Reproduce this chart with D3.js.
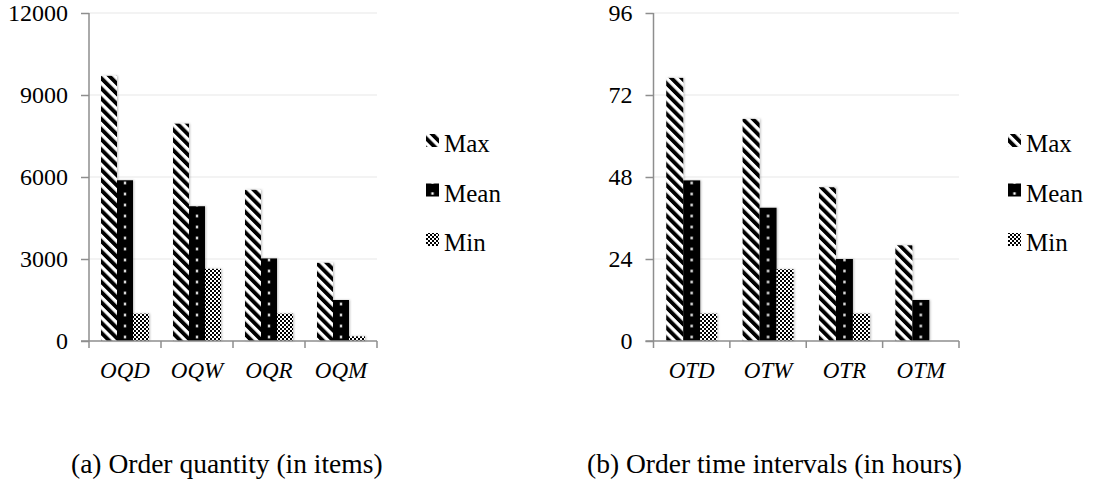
<!DOCTYPE html>
<html>
<head>
<meta charset="utf-8">
<script src="https://cdn.jsdelivr.net/npm/d3@7"></script>
</head>
<body style="margin:0">
<svg id="chart" width="1094" height="485"></svg>
<script>
// ---------- data ----------
const seriesNames = ["Max", "Mean", "Min"];

const categoriesA = ["OQD", "OQW", "OQR", "OQM"];
const maxA  = [9700, 7950, 5530, 2860];
const meanA = [5880, 4930, 3020, 1500];
const minA  = [1000, 2640, 1000, 170];
const ticksA = [0, 3000, 6000, 9000, 12000];
const captionA = "(a) Order quantity (in items)";

const categoriesB = ["OTD", "OTW", "OTR", "OTM"];
const maxB  = [77, 65, 45, 28];
const meanB = [47, 39, 24, 12];
const minB  = [8, 21, 8, 0];
const ticksB = [0, 24, 48, 72, 96];
const captionB = "(b) Order time intervals (in hours)";

// ---------- layout ----------
const FONT = "serif";
const panels = [
  { id: "a", cats: categoriesA, series: [maxA, meanA, minA], ticks: ticksA, caption: captionA,
    left: 89, right: 377, top: 13, bottom: 341, legendX: 426, captionX: 71 },
  { id: "b", cats: categoriesB, series: [maxB, meanB, minB], ticks: ticksB, caption: captionB,
    left: 653.5, right: 959, top: 13, bottom: 341, legendX: 1008, captionX: 587 }
];

const svg = d3.select("#chart");
const defs = svg.append("defs");
const axisColor = "#8e8e8e";
const gridColor = "#efefef";

// stripe pattern (Max)
const stripe = defs.append("pattern").attr("id", "pMax")
  .attr("patternUnits", "userSpaceOnUse").attr("width", 7.2).attr("height", 7.2)
  .attr("patternTransform", "rotate(-45)");
stripe.append("rect").attr("width", 7.2).attr("height", 7.2).attr("fill", "#fff");
stripe.append("rect").attr("width", 3.9).attr("height", 7.2).attr("fill", "#000");

// checker pattern (Min)
const chk = defs.append("pattern").attr("id", "pMin")
  .attr("patternUnits", "userSpaceOnUse").attr("width", 4).attr("height", 4);
chk.append("rect").attr("width", 4).attr("height", 4).attr("fill", "#fff");
chk.append("rect").attr("width", 2).attr("height", 2).attr("fill", "#000");
chk.append("rect").attr("x", 2).attr("y", 2).attr("width", 2).attr("height", 2).attr("fill", "#000");

// dotted pattern (Mean), aligned so a dot column sits at bar center
function meanPattern(id, centerX, period, baseY) {
  const vp = 11;
  const p = defs.append("pattern").attr("id", id)
    .attr("patternUnits", "userSpaceOnUse")
    .attr("x", centerX - period / 2).attr("y", baseY - 4 - vp / 2)
    .attr("width", period).attr("height", vp);
  p.append("rect").attr("width", period).attr("height", vp).attr("fill", "#000");
  p.append("rect").attr("x", period / 2 - 1.2).attr("y", vp / 2 - 1.2)
    .attr("width", 2.4).attr("height", 2.4).attr("fill", "#fff");
}

// soft shadow
const f = defs.append("filter").attr("id", "shadow")
  .attr("x", "-30%").attr("y", "-10%").attr("width", "160%").attr("height", "120%");
f.append("feDropShadow").attr("dx", 1).attr("dy", 0).attr("stdDeviation", 1.2)
  .attr("flood-color", "#000").attr("flood-opacity", 0.25);

panels.forEach(P => {
  const g = svg.append("g");
  const yMax = d3.max(P.ticks);
  const y = d3.scaleLinear().domain([0, yMax]).range([P.bottom, P.top]);
  const x0 = d3.scaleBand().domain(P.cats).range([P.left, P.right])
    .paddingInner(1 / 3).paddingOuter(1 / 6);
  const x1 = d3.scaleBand().domain(seriesNames).range([0, x0.bandwidth()]);
  const step = x0.step();

  // gridlines
  g.append("g").selectAll("line").data(P.ticks.filter(t => t > 0)).join("line")
    .attr("x1", P.left).attr("x2", P.right)
    .attr("y1", d => y(d)).attr("y2", d => y(d))
    .attr("stroke", gridColor).attr("stroke-width", 1.5);

  // y axis
  const yAxis = d3.axisLeft(y).tickValues(P.ticks).tickSize(8).tickPadding(13)
    .tickFormat(d3.format("d"));
  const ya = g.append("g").attr("transform", `translate(${P.left},0)`).call(yAxis);
  ya.attr("font-family", FONT).attr("font-size", 24);
  ya.select(".domain").attr("stroke", axisColor).attr("stroke-width", 1.5)
    .attr("d", `M0,${P.top}V${P.bottom}`);
  ya.selectAll(".tick line").attr("stroke", axisColor).attr("stroke-width", 1.5);
  ya.selectAll(".tick text").style("font-family", FONT).style("font-size", "24px")
    .attr("fill", "#000").attr("dy", "0.33em");

  // bars
  meanPattern("pMean" + P.id, x0(P.cats[0]) + x1("Mean") + x1.bandwidth() / 2, step / 6, P.bottom);
  const fills = ["url(#pMax)", `url(#pMean${P.id})`, "url(#pMin)"];
  const flat = [];
  P.cats.forEach((c, ci) => seriesNames.forEach((s, si) => flat.push({ c, s, si, v: P.series[si][ci] })));
  g.append("g").attr("filter", "url(#shadow)").selectAll("rect").data(flat.filter(d => d.v > 0)).join("rect")
    .attr("x", d => x0(d.c) + x1(d.s))
    .attr("width", x1.bandwidth())
    .attr("y", d => y(d.v))
    .attr("height", d => y(0) - y(d.v))
    .attr("fill", d => fills[d.si]);

  // x axis
  const xa = g.append("g");
  xa.append("line").attr("x1", P.left - 8).attr("x2", P.right)
    .attr("y1", P.bottom).attr("y2", P.bottom)
    .attr("stroke", axisColor).attr("stroke-width", 1.5);
  const bounds = P.cats.map(c => x0(c) - x0.step() * x0.paddingOuter()).concat([P.right]);
  xa.selectAll("line.tk").data(bounds).join("line").attr("class", "tk")
    .attr("x1", d => d).attr("x2", d => d)
    .attr("y1", P.bottom).attr("y2", P.bottom + 7)
    .attr("stroke", axisColor).attr("stroke-width", 1.5);
  xa.selectAll("text").data(P.cats).join("text")
    .attr("x", d => x0(d) + x0.bandwidth() / 2)
    .attr("y", 378)
    .attr("text-anchor", "middle")
    .style("font-family", FONT).style("font-size", "23px").style("font-style", "italic")
    .text(d => d);

  // legend
  const lg = g.append("g");
  seriesNames.forEach((s, i) => {
    const base = 152 + i * 49.5;
    const mx = P.legendX;
    if (i === 1) meanPattern("pLegMean" + P.id, mx + 6.5, 20, base - 4);
    lg.append("rect").attr("x", mx).attr("y", base - 18).attr("width", 13).attr("height", 13)
      .attr("fill", i === 1 ? `url(#pLegMean${P.id})` : fills[i]);
    lg.append("text").attr("x", mx + 18).attr("y", base)
      .style("font-family", FONT).style("font-size", "25px").text(s);
  });

  // caption
  g.append("text").attr("x", P.captionX).attr("y", 473)
    .style("font-family", FONT).style("font-size", "27.5px").text(P.caption);
});
// force text layout
svg.selectAll("text").each(function () { this.getComputedTextLength(); });
</script>
</body>
</html>
